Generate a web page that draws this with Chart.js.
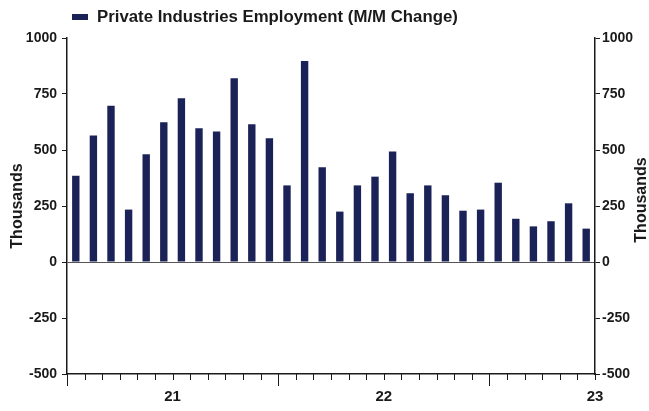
<!DOCTYPE html>
<html>
<head>
<meta charset="utf-8">
<script src="https://cdn.jsdelivr.net/npm/chart.js@4.4.1/dist/chart.umd.min.js"></script>
<style>
  html, body { margin: 0; padding: 0; background: #fff; }
  #wrap { width: 649px; height: 411px; }
</style>
</head>
<body>
<div id="wrap"><canvas id="chart"></canvas></div>
<script>
// months Jan 2021 .. Jun 2023
const months = [
  "Jan 21","Feb 21","Mar 21","Apr 21","May 21","Jun 21","Jul 21","Aug 21","Sep 21","Oct 21","Nov 21","Dec 21",
  "Jan 22","Feb 22","Mar 22","Apr 22","May 22","Jun 22","Jul 22","Aug 22","Sep 22","Oct 22","Nov 22","Dec 22",
  "Jan 23","Feb 23","Mar 23","Apr 23","May 23","Jun 23"
];
const privateChange = [
  385, 565, 698, 234, 481, 624, 731, 597, 583, 820, 615, 552,
  342, 897, 423, 225, 342, 381, 493, 307, 342, 298, 229, 234,
  354, 193, 159, 182, 262, 149
];
const yearLabels = ["21", "22", "23"];
const yearLabelSlots = [6, 18, 30];   // mid-year boundary index
const yearTickSlots = [0, 12, 24];
const seriesName = "Private Industries Employment (M/M Change)";

const FONT = "'Liberation Sans', Arial, sans-serif";
const INK = "#1a1a1a";
const BAR = "#1b2257";

const extras = {
  id: "extras",
  afterDraw(chart) {
    const ctx = chart.ctx;
    const x = chart.scales.x;
    const area = chart.chartArea;
    const n = months.length;
    const step = (x.right - x.left) / n;
    const slot = k => x.left + k * step;

    ctx.save();
    // month ticks
    ctx.strokeStyle = INK;
    ctx.lineWidth = 1;
    for (let k = 0; k <= n; k++) {
      const px = Math.round(slot(k)) + 0.5;
      const len = yearTickSlots.includes(k) ? 12 : 6;
      ctx.beginPath();
      ctx.moveTo(px, area.bottom);
      ctx.lineTo(px, area.bottom + len);
      ctx.stroke();
    }
    // year labels
    ctx.fillStyle = INK;
    ctx.font = "bold 15px " + FONT;
    ctx.textAlign = "center";
    ctx.textBaseline = "middle";
    yearLabels.forEach((lab, i) => ctx.fillText(lab, slot(yearLabelSlots[i]), area.bottom + 23));

    // right axis title, reading bottom to top
    ctx.save();
    ctx.translate(642, 200);
    ctx.rotate(-Math.PI / 2);
    ctx.font = "bold 16px " + FONT;
    ctx.textAlign = "center";
    ctx.textBaseline = "middle";
    ctx.fillText("Thousands", 0, 0);
    ctx.restore();

    // legend
    ctx.fillStyle = BAR;
    ctx.fillRect(72, 14, 16, 6);
    ctx.fillStyle = INK;
    ctx.font = "bold 16.8px " + FONT;
    ctx.textAlign = "left";
    ctx.textBaseline = "middle";
    ctx.fillText(seriesName, 97, 17);
    ctx.restore();
  }
};

const tickFont = { family: FONT, size: 14, weight: "bold" };

new Chart(document.getElementById("chart"), {
  type: "bar",
  data: {
    labels: months,
    datasets: [{
      label: seriesName,
      data: privateChange,
      backgroundColor: BAR,
      borderWidth: 0,
      categoryPercentage: 1,
      barPercentage: 0.42
    }]
  },
  options: {
    responsive: true,
    maintainAspectRatio: false,
    animation: false,
    layout: { padding: { top: 38, bottom: 0, left: 0, right: 0 } },
    plugins: {
      legend: { display: false },
      tooltip: { enabled: false }
    },
    scales: {
      x: {
        type: "category",
        offset: true,
        grid: { display: false },
        border: { display: true, color: INK, width: 1.5 },
        ticks: { display: false },
        afterFit: s => { s.height = 37; }
      },
      y: {
        position: "left",
        min: -500,
        max: 1000,
        ticks: { stepSize: 250, color: INK, font: tickFont, padding: 5, callback: v => String(v) },
        grid: {
          color: c => c.tick && c.tick.value === 0 ? "#555" : "rgba(0,0,0,0)",
          tickColor: INK,
          tickLength: 5,
          lineWidth: 1
        },
        border: { display: true, color: INK, width: 1.5 },
        title: { display: true, text: "Thousands", color: INK, font: { family: FONT, size: 16, weight: "bold" }, padding: { top: 8, bottom: 0 } },
        afterFit: s => { s.width = 67; }
      },
      y2: {
        position: "right",
        min: -500,
        max: 1000,
        ticks: { stepSize: 250, color: INK, font: tickFont, padding: 2, callback: v => String(v) },
        grid: { drawOnChartArea: false, tickColor: INK, tickLength: 5 },
        border: { display: true, color: INK, width: 1.5 },
        afterFit: s => { s.width = 54; }
      }
    }
  },
  plugins: [extras]
});
</script>
</body>
</html>
